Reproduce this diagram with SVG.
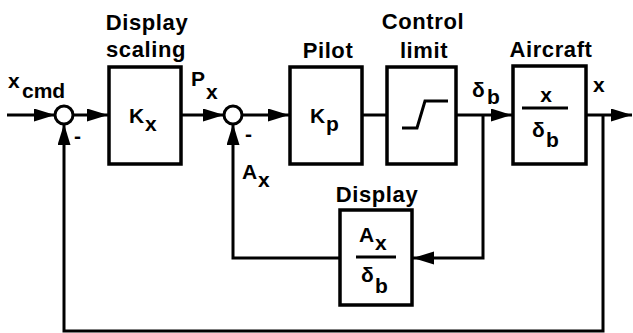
<svg xmlns="http://www.w3.org/2000/svg" width="633" height="333" viewBox="0 0 633 333">
<defs>
<style>
.box{fill:#fff;stroke:#000;stroke-width:3.5}
.sum{fill:#fff;stroke:#000;stroke-width:3}
.ln{fill:none;stroke:#000;stroke-width:3}
.arr{fill:none;stroke:#000;stroke-width:3;marker-end:url(#ah)}
text{font-family:"Liberation Sans",Arial,sans-serif;font-weight:bold;fill:#000}
.lab{font-size:22px;letter-spacing:0.6px}
.sym{font-size:21px}
.mid{text-anchor:middle}
</style>
<marker id="ah" markerUnits="userSpaceOnUse" markerWidth="22" markerHeight="14" refX="21" refY="6.5" orient="auto">
<path d="M0,0 L21,6.5 L0,13 z" fill="#000"/>
</marker>
</defs>
<rect width="633" height="333" fill="#fff"/>
<g id="connectors">
<line class="arr" x1="7" y1="115" x2="55" y2="115"/>
<line class="arr" x1="73" y1="115" x2="108" y2="115"/>
<line class="arr" x1="182" y1="115" x2="224" y2="115"/>
<line class="arr" x1="242" y1="115" x2="289" y2="115"/>
<line class="ln" x1="363" y1="115" x2="387" y2="115"/>
<line class="arr" x1="457" y1="115" x2="512" y2="115"/>
<line class="arr" x1="587" y1="115" x2="632" y2="115"/>
<polyline class="arr" points="603,115 603,331 64,331 64,124"/>
<polyline class="arr" points="483,115 483,258 413,258"/>
<polyline class="arr" points="339,258 233,258 233,124"/>
</g>
<g id="sum1">
<circle class="sum" cx="64" cy="115" r="9"/>
<text class="sym" x="74" y="143">-</text>
</g>
<g id="sum2">
<circle class="sum" cx="233" cy="115" r="9"/>
<text class="sym" x="245" y="141">-</text>
</g>
<g id="input-label">
<text class="sym" x="8" y="88">x<tspan x="22" y="98">cmd</tspan></text>
</g>
<g id="display-scaling">
<text class="lab mid" x="147" y="30">Display</text>
<text class="lab mid" x="146" y="57">scaling</text>
<rect class="box" x="109" y="67" width="72" height="97"/>
<text class="sym" x="129" y="123">K<tspan x="145" y="131">x</tspan></text>
</g>
<g id="px-label">
<text class="sym" x="191" y="86">P<tspan x="206" y="99">x</tspan></text>
</g>
<g id="pilot">
<text class="lab mid" x="328" y="58">Pilot</text>
<rect class="box" x="290" y="67" width="72" height="97"/>
<text class="sym" x="310" y="123">K<tspan x="326" y="131">p</tspan></text>
</g>
<g id="control-limit">
<text class="lab mid" x="423" y="29">Control</text>
<text class="lab mid" x="424" y="58">limit</text>
<rect class="box" x="387" y="67" width="69" height="97"/>
<polyline class="ln" points="402,128 417,128 425,101 448,101"/>
</g>
<g id="db-label">
<text class="sym" x="472" y="97">δ<tspan x="487" y="104">b</tspan></text>
</g>
<g id="aircraft">
<text class="lab mid" x="551" y="57">Aircraft</text>
<rect class="box" x="513" y="66" width="73" height="98"/>
<text class="sym mid" x="546" y="102">x</text>
<line class="ln" x1="522" y1="108" x2="568" y2="108"/>
<text class="sym" x="532" y="137">δ<tspan x="546" y="147">b</tspan></text>
</g>
<g id="x-label">
<text class="sym" x="593" y="92">x</text>
</g>
<g id="ax-label">
<text class="sym" x="242" y="179">A<tspan x="258" y="187">x</tspan></text>
</g>
<g id="display">
<text class="lab mid" x="377" y="202">Display</text>
<rect class="box" x="340" y="210" width="72" height="95"/>
<text class="sym" x="359" y="242">A<tspan x="375" y="250">x</tspan></text>
<line class="ln" x1="356" y1="257" x2="396" y2="257"/>
<text class="sym" x="361" y="282">δ<tspan x="375" y="293">b</tspan></text>
</g>
</svg>
